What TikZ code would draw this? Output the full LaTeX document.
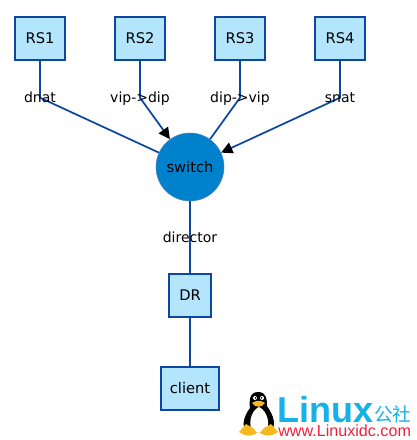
\documentclass[tikz,border=0pt]{standalone}
\usepackage{fontspec}
\setmainfont{DejaVu Sans}
\newfontfamily\logofont{Liberation Sans}
\newfontfamily\cjkfont{Noto Sans CJK SC}
\usepackage{tikz}
\usetikzlibrary{arrows.meta, positioning, backgrounds}
\definecolor{linkblue}{HTML}{0D47A1}
\definecolor{boxblue}{HTML}{B3E5FC}
\definecolor{hubblue}{HTML}{0081CB}
\definecolor{logoblue}{HTML}{16B1E6}
\definecolor{logored}{HTML}{F0203C}
\definecolor{tuxyellow}{HTML}{F5B81E}
\tikzset{
    hostbox/.style={draw=linkblue, fill=boxblue, line width=1.4pt, minimum width=37.5pt, minimum height=32.5pt, inner sep=0pt, font=\fontsize{11}{13}\selectfont},
    link/.style={draw=linkblue, line width=1.3pt},
    tag/.style={inner sep=0pt, text height=8.5pt, text depth=2pt, font=\fontsize{10.5}{12}\selectfont},
}
\begin{document}
\begin{tikzpicture}[x=0.75pt, y=-0.75pt, >=Stealth, node distance=36.1pt]
    \useasboundingbox (0,0) rectangle (417,440);
    % 上排四台 RS
    \node[hostbox] (RS1) at (40,38.5) {RS1};
    \node[hostbox] (RS2) [right=of RS1] {RS2};
    \node[hostbox] (RS3) [right=of RS2] {RS3};
    \node[hostbox] (RS4) [right=of RS3] {RS4};

    % 中间的 switch 和下方节点
    \node[circle, draw=linkblue!70, fill=hubblue, line width=0.4pt, minimum size=51pt, inner sep=0pt, font=\fontsize{11}{13}\selectfont] (switch) at (190,167) {switch};
    \node[hostbox, minimum width=31pt] (DR) at (190,295.5) {DR};
    \node[hostbox, minimum width=44pt] (client) at (190,388.5) {client};

    % 连线上的文字
    \node[tag] (dnat) at (40,97.7) {dnat};
    \node[tag] (vipdip) at (140,97.7) {vip->dip};
    \node[tag] (dipvip) at (240,97.7) {dip->vip};
    \node[tag] (snat) at (340,97.7) {snat};
    \node[tag] (director) at (190,238.4) {director};

    % 连线放在背景层，文字压在线上
    \begin{pgfonlayer}{background}
        \draw[link] (RS1) -- (dnat.center) -- (switch);
        \draw[link, -{Triangle[black, length=8.5pt, width=8.5pt]}] (RS2) -- (vipdip.center) -- (switch);
        \draw[link] (RS3) -- (dipvip.center) -- (switch);
        \draw[link, -{Triangle[black, length=8.5pt, width=8.5pt]}] (RS4) -- (snat.center) -- (switch);
        \draw[link] (switch) -- (director.center) -- (DR);
        \draw[link] (DR) -- (client);
    \end{pgfonlayer}

    % 水印
    \node[anchor=base west, inner sep=0pt, text=logoblue, font=\logofont\bfseries\fontsize{27}{28}\selectfont] (logo) at (277,422) {Linux};
    \node[anchor=base west, inner sep=0pt, text=logoblue, font=\cjkfont\fontsize{14}{15}\selectfont] (gongshe) at (374,421) {公社};
    \node[anchor=base west, inner sep=0pt, text=logored, font=\logofont\fontsize{12.1}{13}\selectfont] (site) at (278,436) {www.Linuxidc.com};

    % 企鹅
    \fill[black] (258,392) .. controls (249,392) and (249,402) .. (250,408) .. controls (243,417) and (241,428) .. (248,432) -- (270,432) .. controls (277,426) and (274,416) .. (267,406) .. controls (267,400) and (267,392) .. (258,392);
    \fill[white] (259,407) .. controls (250,411) and (248,426) .. (253,432) -- (265,432) .. controls (271,426) and (268,411) .. (259,407);
    \fill[tuxyellow] (252,403) .. controls (256,400) and (261,400) .. (265,403) .. controls (262,408) and (255,408) .. (252,403) -- cycle;
    \fill[white] (255,398) circle (2) (262,398) circle (2);
    \fill[black] (255.5,398) circle (0.9) (261.5,398) circle (0.9);
    \fill[tuxyellow] (246,424) -- (253,428) -- (257,433) .. controls (252,437) and (244,436) .. (239,432) -- cycle;
    \fill[tuxyellow] (271,424) -- (264,428) -- (260,433) .. controls (265,437) and (273,436) .. (278,432) -- cycle;
\end{tikzpicture}
\end{document}
